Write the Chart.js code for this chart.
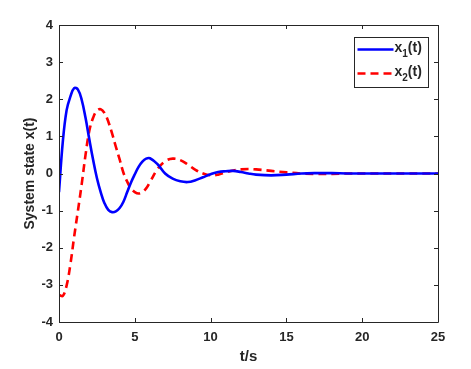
<!DOCTYPE html>
<html>
<head>
<meta charset="utf-8">
<script src="https://cdn.jsdelivr.net/npm/chart.js@4"></script>
<style>
  html, body { margin: 0; padding: 0; background: #fff; }
  #wrap { width: 471px; height: 369px; }
</style>
</head>
<body>
<div id="wrap"><canvas id="stateChart"></canvas></div>
<script>
// time samples (s)
var time = [0, 0.25, 0.5, 0.75, 1, 1.25, 1.5, 1.75, 2, 2.25, 2.5, 2.75, 3, 3.25, 3.5, 3.75, 4, 4.25, 4.5, 4.75,
            5, 5.25, 5.5, 5.75, 6, 6.5, 7, 7.5, 8, 8.5, 9, 9.5, 10, 10.5, 11, 11.5, 12, 12.5, 13, 14, 15,
            16, 17, 18, 19, 20, 21, 22, 23, 24, 25];
var x1 = [-0.5, 0.85, 1.7, 2.07, 2.3, 2.26, 1.98, 1.5, 0.92, 0.37, -0.12, -0.5, -0.8, -0.98, -1.04, -1.02, -0.93, -0.76, -0.5, -0.24,
          -0.02, 0.18, 0.32, 0.4, 0.41, 0.25, 0.0, -0.14, -0.21, -0.23, -0.18, -0.1, -0.02, 0.04, 0.06, 0.07,
          0.04, 0.0, -0.03, -0.05, -0.03, 0.0, 0.01, 0.01, 0, 0, 0, 0, 0, 0, 0];
var x2 = [-3.27, -3.3, -3.02, -2.45, -1.7, -1.0, -0.28, 0.5, 1.15, 1.5, 1.69, 1.73, 1.63, 1.4, 1.08, 0.72, 0.38, 0.02, -0.22, -0.4,
          -0.5, -0.54, -0.5, -0.4, -0.23, 0.12, 0.33, 0.4, 0.36, 0.24, 0.1, 0.0, -0.05, -0.03, 0.03, 0.08,
          0.11, 0.12, 0.11, 0.07, 0.03, 0.0, -0.01, -0.01, 0, 0, 0, 0, 0, 0, 0];
var seriesNames = ['x', 'x'];
var seriesSubs = ['1', '2'];
var xTicks = [0, 5, 10, 15, 20, 25];
var yTicks = [-4, -3, -2, -1, 0, 1, 2, 3, 4];

function pts(ys) {
    return time.map(function (t, i) { return {x: t, y: ys[i]}; });
}

var axisColor = '#262626';
var fontFam = '"Liberation Sans", Arial, Helvetica, sans-serif';

// MATLAB style box with inward ticks + inside legend
var matlabBox = {
    id: 'matlabBox',
    afterDatasetsDraw: function (chart) {
        var ctx = chart.ctx, a = chart.chartArea;
        var xs = chart.scales.x, ys = chart.scales.y;
        ctx.save();
        ctx.strokeStyle = axisColor;
        ctx.lineWidth = 1;
        ctx.beginPath();
        ctx.rect(a.left + 0.5, a.top + 0.5, a.right - a.left, a.bottom - a.top);
        xTicks.forEach(function (v) {
            var px = Math.round(xs.getPixelForValue(v)) + 0.5;
            ctx.moveTo(px, a.bottom); ctx.lineTo(px, a.bottom - 4);
            ctx.moveTo(px, a.top); ctx.lineTo(px, a.top + 4);
        });
        yTicks.forEach(function (v) {
            var py = Math.round(ys.getPixelForValue(v)) + 0.5;
            ctx.moveTo(a.left, py); ctx.lineTo(a.left + 4, py);
            ctx.moveTo(a.right, py); ctx.lineTo(a.right - 4, py);
        });
        ctx.stroke();

        // legend
        var lx = 354.5, ly = 37.5, lw = 74, lh = 50;
        ctx.fillStyle = '#fff';
        ctx.fillRect(lx, ly, lw, lh);
        ctx.strokeRect(lx, ly, lw, lh);
        chart.data.datasets.forEach(function (ds, i) {
            var y = ly + 12 + i * 24;
            ctx.strokeStyle = ds.borderColor;
            ctx.lineWidth = 2.5;
            ctx.setLineDash(ds.borderDash || []);
            ctx.beginPath();
            ctx.moveTo(lx + 3, y); ctx.lineTo(lx + 39, y);
            ctx.stroke();
            ctx.setLineDash([]);
            ctx.fillStyle = axisColor;
            ctx.textBaseline = 'middle';
            ctx.font = 'bold 14px ' + fontFam;
            var tx = lx + 40;
            ctx.fillText(seriesNames[i], tx, y - 1);
            tx += ctx.measureText(seriesNames[i]).width;
            ctx.font = 'bold 10px ' + fontFam;
            ctx.fillText(seriesSubs[i], tx, y + 5);
            tx += ctx.measureText(seriesSubs[i]).width;
            ctx.font = 'bold 14px ' + fontFam;
            ctx.fillText('(t)', tx, y - 1);
        });
        ctx.restore();
    }
};

var ctx = document.getElementById('stateChart').getContext('2d');
var myChart = new Chart(ctx, {
    type: 'line',
    data: {
        datasets: [{
            label: 'x1(t)',
            data: pts(x1),
            borderColor: '#0000ff',
            borderWidth: 2.6,
            pointRadius: 0,
            tension: 0.4
        }, {
            label: 'x2(t)',
            data: pts(x2),
            borderColor: '#ff0000',
            borderWidth: 2.6,
            borderDash: [8, 5],
            pointRadius: 0,
            tension: 0.4
        }]
    },
    options: {
        responsive: true,
        maintainAspectRatio: false,
        animation: false,
        layout: { padding: { top: 25, right: 33, left: 0, bottom: 0 } },
        plugins: { legend: { display: false }, tooltip: { enabled: false } },
        scales: {
            x: {
                type: 'linear', min: 0, max: 25,
                afterBuildTicks: function (s) { s.ticks = xTicks.map(function (v) { return {value: v}; }); },
                afterFit: function (s) { s.height = 47; },
                grid: { display: false, drawTicks: false },
                border: { display: false },
                ticks: { color: axisColor, padding: 8, maxRotation: 0, font: { family: fontFam, size: 13, weight: 'bold' } },
                title: { display: true, text: 't/s', color: axisColor, padding: { top: 0, bottom: 3 },
                         font: { family: fontFam, size: 15, weight: 'bold' } }
            },
            y: {
                min: -4, max: 4,
                afterBuildTicks: function (s) { s.ticks = yTicks.map(function (v) { return {value: v}; }); },
                afterFit: function (s) { s.width = 59; },
                grid: { display: false, drawTicks: false },
                border: { display: false },
                ticks: { color: axisColor, padding: 6, font: { family: fontFam, size: 13, weight: 'bold' } },
                title: { display: true, text: 'System state x(t)', color: axisColor, padding: { top: 22, bottom: 0 },
                         font: { family: fontFam, size: 14, weight: 'bold' } }
            }
        }
    },
    plugins: [matlabBox]
});
</script>
</body>
</html>
